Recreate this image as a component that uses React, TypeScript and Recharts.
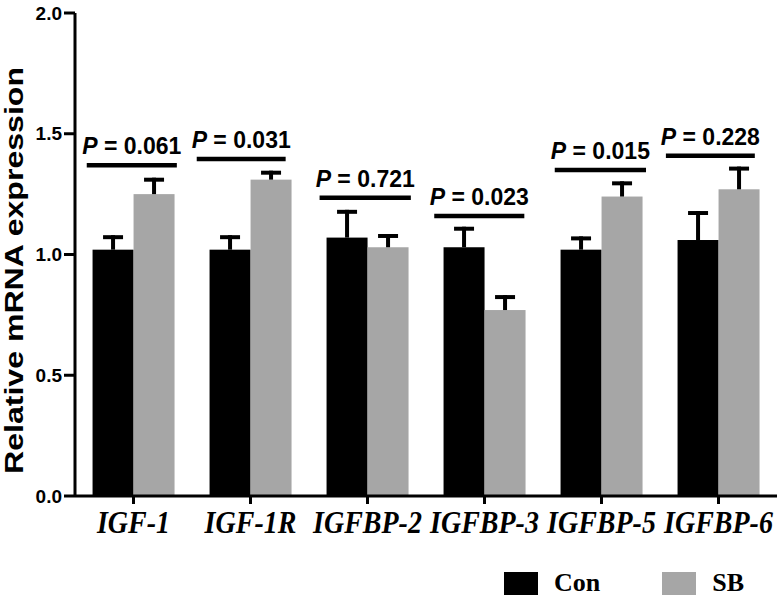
import { Bar, BarChart, LabelList, Legend, XAxis, YAxis } from 'recharts';

const genes = ['IGF-1', 'IGF-1R', 'IGFBP-2', 'IGFBP-3', 'IGFBP-5', 'IGFBP-6'];
const conMean = [1.02, 1.02, 1.07, 1.03, 1.02, 1.06];
const conSem = [0.06, 0.06, 0.115, 0.085, 0.055, 0.12];
const sbMean = [1.25, 1.31, 1.03, 0.77, 1.24, 1.27];
const sbSem = [0.068, 0.037, 0.055, 0.062, 0.063, 0.094];
const yTicks = [0, 0.5, 1, 1.5, 2];

// significance bars: height in y units, ends in category units (0..6 across the plot)
const pValues = ['0.061', '0.031', '0.721', '0.023', '0.015', '0.228'];
const pLineY = [1.37, 1.395, 1.235, 1.159, 1.35, 1.409];
const pLineFrom = [0.1, 1.04, 2.09, 3.07, 4.1, 5.05];
const pLineTo = [0.87, 1.8, 2.87, 3.84, 4.88, 5.81];

const CHART_W = 780;
const CHART_H = 599;
const MARGIN = { top: 13, right: 3, left: 0, bottom: 43 };
const Y_AXIS_W = 75;
const BAND = (CHART_W - MARGIN.left - MARGIN.right - Y_AXIS_W) / genes.length;

const data = genes.map((g, i) => ({
  gene: g,
  con: conMean[i],
  conSem: conSem[i],
  sb: sbMean[i],
  sbSem: sbSem[i],
}));

const barWithError = (valKey: 'con' | 'sb', errKey: 'conSem' | 'sbSem') => (props: any) => {
  const { x, y, width, height, fill, payload } = props;
  const pxPerUnit = height / payload[valKey];
  const errTop = y - payload[errKey] * pxPerUnit;
  const cx = x + width / 2;
  return (
    <g>
      <rect x={x} y={y} width={width} height={height} fill={fill} />
      <line x1={cx} x2={cx} y1={y} y2={errTop} stroke="#000" strokeWidth={4} />
      <line x1={cx - 10} x2={cx + 10} y1={errTop + 2} y2={errTop + 2} stroke="#000" strokeWidth={4} />
    </g>
  );
};

// drawn from the Con bar of each group: its right edge is the category centre
const PAnnotation = (props: any) => {
  const { x, y, width, height, index } = props;
  if (index == null) return null;
  const centre = x + width;
  const bottom = y + height;
  const k = height / conMean[index];
  const ly = bottom - pLineY[index] * k;
  const x1 = centre + (pLineFrom[index] - index - 0.5) * BAND;
  const x2 = centre + (pLineTo[index] - index - 0.5) * BAND;
  return (
    <g>
      <line x1={x1} x2={x2} y1={ly} y2={ly} stroke="#000" strokeWidth={4.5} />
      <text
        x={(x1 + x2) / 2}
        y={ly - 11}
        textAnchor="middle"
        fontFamily="'Liberation Sans', Arial, sans-serif"
        fontWeight="bold"
        fontSize={23}
        fill="#000"
      >
        <tspan fontStyle="italic">P</tspan>
        {` = ${pValues[index]}`}
      </text>
    </g>
  );
};

const YLabel = ({ viewBox }: any) => {
  const x = 23;
  const y = viewBox.y + viewBox.height / 2 + 16;
  return (
    <text
      x={x}
      y={y}
      transform={`rotate(-90, ${x}, ${y})`}
      textAnchor="middle"
      fontFamily="'Liberation Sans', Arial, sans-serif"
      fontWeight="bold"
      fontSize={26}
      textLength={407}
      lengthAdjust="spacingAndGlyphs"
      fill="#000"
    >
      Relative mRNA expression
    </text>
  );
};

const GeneTick = ({ x, y, payload }: any) => (
  <text
    transform={`translate(${x}, ${y + 27}) scale(1, 1.12)`}
    textAnchor="middle"
    fontFamily="'Liberation Serif', 'Times New Roman', serif"
    fontStyle="italic"
    fontWeight="bold"
    fontSize={28}
    fill="#000"
  >
    {payload.value}
  </text>
);

const LegendContent = ({ payload }: any) => (
  <div
    style={{
      display: 'flex',
      alignItems: 'center',
      fontFamily: "'Liberation Serif', 'Times New Roman', serif",
      fontWeight: 'bold',
      fontSize: 26,
      color: '#000',
      lineHeight: '30px',
    }}
  >
    {(payload || []).map((p: any, i: number) => (
      <div key={p.value} style={{ display: 'flex', alignItems: 'center', marginRight: i === 0 ? 62 : 0 }}>
        <span style={{ display: 'inline-block', width: 34, height: 23, background: p.color, marginRight: 16 }} />
        <span>{p.value}</span>
      </div>
    ))}
  </div>
);

const App = () => (
  <div style={{ position: 'absolute', left: 0, top: 0, width: CHART_W, height: CHART_H, background: '#fff' }}>
    <BarChart
      width={CHART_W}
      height={CHART_H}
      data={data}
      margin={MARGIN}
      barCategoryGap="15%"
      barGap={0}
    >
      <XAxis
        dataKey="gene"
        height={60}
        interval={0}
        tick={<GeneTick />}
        tickSize={8}
        tickMargin={2}
        axisLine={{ stroke: '#000', strokeWidth: 3 }}
        tickLine={{ stroke: '#000', strokeWidth: 3 }}
      />
      <YAxis
        domain={[0, 2]}
        ticks={yTicks}
        interval={0}
        width={Y_AXIS_W}
        tickFormatter={(v: number) => v.toFixed(1)}
        tickSize={11}
        tickMargin={2}
        axisLine={{ stroke: '#000', strokeWidth: 3 }}
        tickLine={{ stroke: '#000', strokeWidth: 3 }}
        tick={{ fill: '#000', fontSize: 19, fontWeight: 'bold', fontFamily: "'Liberation Sans', Arial, sans-serif" }}
        label={<YLabel />}
      />
      <Legend
        layout="horizontal"
        verticalAlign="middle"
        align="center"
        wrapperStyle={{ position: 'absolute', left: 504, top: 568, width: 'auto' }}
        content={<LegendContent />}
      />
      <Bar dataKey="con" name="Con" fill="#000000" isAnimationActive={false} shape={barWithError('con', 'conSem')}>
        <LabelList dataKey="con" content={<PAnnotation />} />
      </Bar>
      <Bar dataKey="sb" name="SB" fill="#a6a6a6" isAnimationActive={false} shape={barWithError('sb', 'sbSem')} />
    </BarChart>
  </div>
);

export default App;
